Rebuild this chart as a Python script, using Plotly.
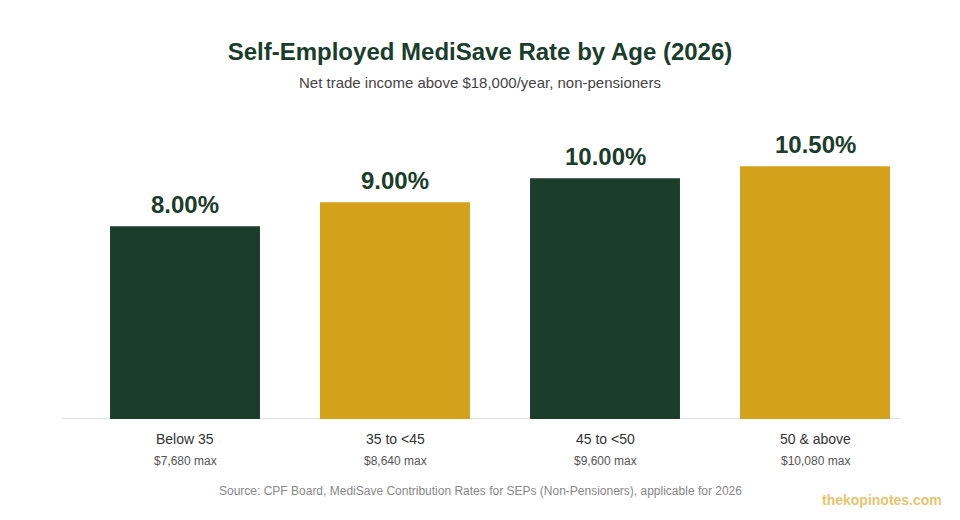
import plotly.graph_objects as go

# data
age_groups = ["Below 35", "35 to <45", "45 to <50", "50 & above"]
rates = [8.00, 9.00, 10.00, 10.50]
max_amounts = ["$7,680 max", "$8,640 max", "$9,600 max", "$10,080 max"]

GREEN = "#1b3d2b"
GOLD = "#d4a11a"
bar_colors = [GREEN, GOLD, GREEN, GOLD]

# plot area in pixels (page puts the figure 8px in from the corner)
L, R, T, B = 72, 48, 122, 109
PW = 960 - L - R
PH = 520 - T - B


def px_x(p):
    return (p - L) / PW


def px_y(p):
    return (520 - B - p) / PH


fig = go.Figure()
fig.add_trace(go.Bar(
    x=age_groups,
    y=rates,
    marker=dict(color=bar_colors, line=dict(width=0)),
    hoverinfo="skip",
))

# value labels above each bar
for cat, val in zip(age_groups, rates):
    fig.add_annotation(
        x=cat, y=val, text="<b>%.2f%%</b>" % val, showarrow=False,
        yanchor="bottom", yshift=6,
        font=dict(size=24, color=GREEN),
    )

# category labels and max contribution below the axis
for cat, amt in zip(age_groups, max_amounts):
    fig.add_annotation(
        x=cat, y=0, text=cat, showarrow=False, yanchor="middle", yshift=-20,
        font=dict(size=14, color="#333333"),
    )
    fig.add_annotation(
        x=cat, y=0, text=amt, showarrow=False, yanchor="middle", yshift=-42,
        font=dict(size=12, color="#555555"),
    )

fig.update_layout(
    width=960, height=520,
    margin=dict(l=L, r=R, t=T, b=B),
    paper_bgcolor="white", plot_bgcolor="white",
    font=dict(family="Liberation Sans, Arial, sans-serif"),
    bargap=0.286,
    showlegend=False,
    title=dict(
        text="<b>Self-Employed MediSave Rate by Age (2026)</b>",
        x=px_x(472), xref="paper", xanchor="center",
        y=1 - 44 / 520, yanchor="middle",
        font=dict(size=24, color=GREEN),
    ),
    xaxis=dict(showticklabels=False, showgrid=False, zeroline=False, showline=False),
    yaxis=dict(range=[0, 12], visible=False),
)

fig.add_annotation(
    text="Net trade income above $18,000/year, non-pensioners",
    xref="paper", yref="paper", x=px_x(472), y=px_y(75),
    showarrow=False, yanchor="middle", font=dict(size=15, color="#444444"),
)
fig.add_annotation(
    text="Source: CPF Board, MediSave Contribution Rates for SEPs (Non-Pensioners), applicable for 2026",
    xref="paper", yref="paper", x=px_x(472), y=px_y(483),
    showarrow=False, yanchor="middle", font=dict(size=12, color="#888888"),
)
fig.add_annotation(
    text="<b>thekopinotes.com</b>",
    xref="paper", yref="paper", x=px_x(936), y=px_y(492),
    showarrow=False, xanchor="right", yanchor="middle",
    font=dict(size=14, color="#e8c46e"),
)

# light baseline under the bars
fig.add_shape(
    type="line", xref="paper", yref="y",
    x0=px_x(54), x1=px_x(892), y0=0, y1=0,
    line=dict(color="#e2e2e2", width=2), layer="below",
)

fig.write_html("out.html")
